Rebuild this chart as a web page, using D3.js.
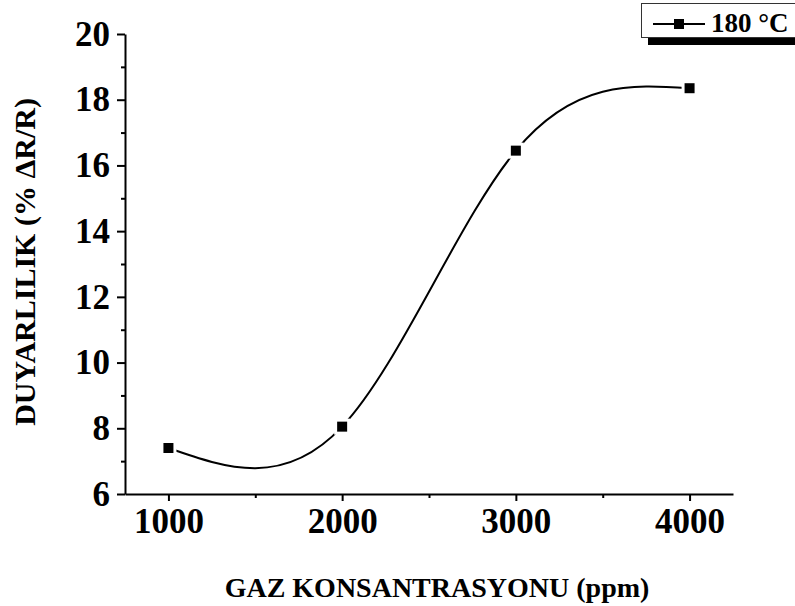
<!DOCTYPE html>
<html lang="en">
  <head>
    <meta charset="utf-8">
    <title>Duyarlilik</title>
    <script src="https://d3js.org/d3.v7.min.js"></script>
    <style>
      body { margin: 0; background: #fff; }
      text { font-family: "Liberation Serif", "Times New Roman", serif; font-weight: bold; fill: #000; }
    </style>
  </head>
  <body>
    <div id="chart"></div>
    <script>
      // data
      var concentrations = [1000, 2000, 3000, 4000];
      var sensitivity = [7.4, 8.05, 16.45, 18.35];
      var seriesName = "180 \u00B0C";
      var xTicks = [1000, 2000, 3000, 4000];
      var xMinorTicks = [1500, 2500, 3500];
      var yTicks = [6, 8, 10, 12, 14, 16, 18, 20];
      var yMinorTicks = [7, 9, 11, 13, 15, 17, 19];

      var width = 795, height = 606;
      var margin = {top: 34, right: 62, bottom: 112, left: 125};

      var svg = d3.select("#chart").append("svg")
          .attr("width", width)
          .attr("height", height);

      var x = d3.scaleLinear().domain([750, 4250]).range([margin.left, width - margin.right]);
      var y = d3.scaleLinear().domain([6, 20]).range([height - margin.bottom, margin.top]);

      // minor ticks first, then major axes on top
      svg.append("g")
          .attr("transform", "translate(0," + y(6) + ")")
          .call(d3.axisBottom(x).tickValues(xMinorTicks).tickSize(4).tickFormat(""))
          .call(function(g) { g.select(".domain").remove(); })
          .selectAll("line").attr("stroke-width", 2);
      svg.append("g")
          .attr("transform", "translate(" + x(750) + ",0)")
          .call(d3.axisLeft(y).tickValues(yMinorTicks).tickSize(4).tickFormat(""))
          .call(function(g) { g.select(".domain").remove(); })
          .selectAll("line").attr("stroke-width", 2);

      var xAxis = svg.append("g")
          .attr("transform", "translate(0," + y(6) + ")")
          .call(d3.axisBottom(x).tickValues(xTicks).tickFormat(d3.format("d"))
            .tickSize(7).tickSizeOuter(0).tickPadding(7));
      xAxis.select(".domain").attr("stroke-width", 2);
      xAxis.selectAll("line").attr("stroke-width", 2);
      xAxis.selectAll("text").style("font-size", "35px");

      var yAxis = svg.append("g")
          .attr("transform", "translate(" + x(750) + ",0)")
          .call(d3.axisLeft(y).tickValues(yTicks).tickSize(8).tickSizeOuter(0).tickPadding(7));
      yAxis.select(".domain").attr("stroke-width", 2);
      yAxis.selectAll("line").attr("stroke-width", 2);
      yAxis.selectAll("text").style("font-size", "35px");

      // axis titles
      svg.append("text")
          .attr("x", x(2500) + 8)
          .attr("y", 597)
          .attr("text-anchor", "middle")
          .style("font-size", "28px")
          .text("GAZ KONSANTRASYONU (ppm)");

      svg.append("text")
          .attr("transform", "translate(35," + 262 + ") rotate(-90)")
          .attr("text-anchor", "middle")
          .style("font-size", "30px")
          .text("DUYARLILIK (% \u0394R/R)");

      var data = concentrations.map(function(c, i) { return {x: c, y: sensitivity[i]}; });

      // spline through the points
      var line = d3.line()
          .x(function(d) { return x(d.x); })
          .y(function(d) { return y(d.y); })
          .curve(d3.curveNatural);

      svg.append("path")
          .datum(data)
          .attr("fill", "none")
          .attr("stroke", "#000")
          .attr("stroke-width", 2)
          .attr("d", line);

      // white halo gives the gap between line and symbol
      svg.selectAll(".halo")
          .data(data)
          .enter().append("rect")
          .attr("class", "halo")
          .attr("x", function(d) { return x(d.x) - 8; })
          .attr("y", function(d) { return y(d.y) - 8; })
          .attr("width", 16)
          .attr("height", 16)
          .attr("fill", "#fff");

      svg.selectAll(".pt")
          .data(data)
          .enter().append("rect")
          .attr("class", "pt")
          .attr("x", function(d) { return x(d.x) - 5; })
          .attr("y", function(d) { return y(d.y) - 5; })
          .attr("width", 10)
          .attr("height", 10)
          .attr("fill", "#000");

      // legend
      var legend = svg.append("g");
      legend.append("rect")
          .attr("x", 648).attr("y", 38)
          .attr("width", 160).attr("height", 7)
          .attr("fill", "#000");
      legend.append("rect")
          .attr("x", 641.5).attr("y", 3.5)
          .attr("width", 170).attr("height", 34)
          .attr("fill", "#fff")
          .attr("stroke", "#333")
          .attr("stroke-width", 1);
      legend.append("line")
          .attr("x1", 653).attr("x2", 705)
          .attr("y1", 24).attr("y2", 24)
          .attr("stroke", "#000").attr("stroke-width", 2);
      legend.append("rect")
          .attr("x", 674).attr("y", 19)
          .attr("width", 10).attr("height", 10)
          .attr("fill", "#000");
      legend.append("text")
          .attr("x", 711)
          .attr("y", 32)
          .style("font-size", "27px")
          .text(seriesName);
    </script>
  </body>
</html>
